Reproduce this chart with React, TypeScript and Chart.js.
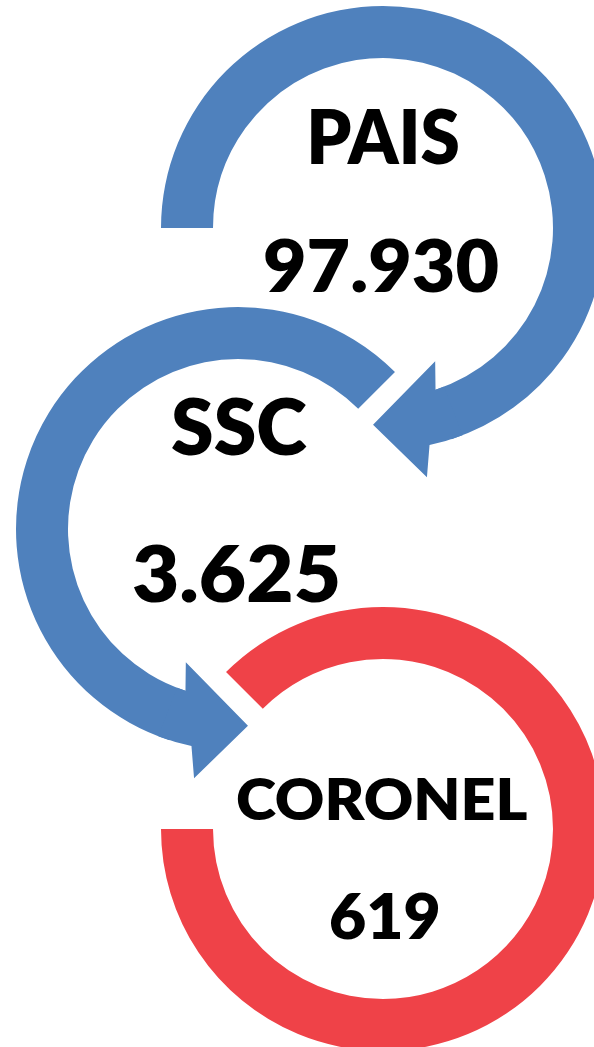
import React, { useEffect, useRef } from 'react';
import { Chart, registerables } from 'chart.js';

Chart.register(...registerables);

// ---------------- DATA ----------------
const names = ['PAIS', 'SSC', 'CORONEL'];
const values = [97930, 3625, 619];

// Spanish thousands separator: 97930 -> "97.930"
const formatValue = (v: number) => String(v).replace(/\B(?=(\d{3})+(?!\d))/g, '.');

// ---------------- STYLE / LAYOUT ----------------
const BLUE = '#4F81BD';
const RED = '#EF4248';
const FONT = '"Lato", "Open Sans", sans-serif';
const WEIGHT = 800;

const OUTER = 222; // ring outer radius (px)
const INNER = 170; // ring inner radius (px)
const PAD = 40; // room around the ring for the arrow head
const SIZE = OUTER * 2 + PAD * 2;

// angles in degrees, screen convention (0 = right, 90 = down, clockwise)
type Box = { dx: number; bottom: number; w: number; h: number };
type Ring = {
  cx: number;
  cy: number;
  startDeg: number;
  spanDeg: number;
  arrow: 'start' | 'end' | null;
  color: string;
  name: Box;
  value: Box;
};

const RINGS: Ring[] = [
  {
    cx: 383, cy: 228, startDeg: 180, spanDeg: 252, arrow: 'end', color: BLUE,
    name: { dx: 1.5, bottom: -63, w: 147, h: 57 },
    value: { dx: -1.5, bottom: 65, w: 233, h: 55 },
  },
  {
    cx: 238, cy: 529, startDeg: 108, spanDeg: 207, arrow: 'start', color: BLUE,
    name: { dx: 1.5, bottom: -73, w: 135, h: 58 },
    value: { dx: -2.5, bottom: 74, w: 205, h: 58 },
  },
  {
    cx: 383, cy: 829, startDeg: 225, spanDeg: 315, arrow: null, color: RED,
    name: { dx: -1, bottom: -9, w: 290, h: 42 },
    value: { dx: 1, bottom: 111, w: 108, h: 48 },
  },
];

// arrow head shape, relative to the arc end (polar: radius offset, angle offset in degrees)
const HEAD = {
  overlapDeg: 3,
  barbInDeg: -3.4,
  barbInR: -27, // from inner radius
  tipDeg: 20.9,
  tipR: 1, // from mid radius
  barbOutDeg: 8.0,
  barbOutR: 31, // from outer radius
  outerEndDeg: 5.9,
};

function drawFitted(
  ctx: CanvasRenderingContext2D,
  text: string,
  cx: number,
  bottom: number,
  w: number,
  h: number
) {
  ctx.save();
  ctx.font = `${WEIGHT} 100px ${FONT}`;
  const m = ctx.measureText(text);
  const inkH = m.actualBoundingBoxAscent + m.actualBoundingBoxDescent;
  const size = (100 * h) / inkH;
  ctx.font = `${WEIGHT} ${size}px ${FONT}`;
  const m2 = ctx.measureText(text);
  const inkW = m2.actualBoundingBoxLeft + m2.actualBoundingBoxRight;
  const sx = w / inkW;
  ctx.translate(cx, bottom - m2.actualBoundingBoxDescent);
  ctx.scale(sx, 1);
  ctx.textAlign = 'left';
  ctx.textBaseline = 'alphabetic';
  ctx.fillStyle = '#000000';
  ctx.fillText(text, -(m2.actualBoundingBoxRight - m2.actualBoundingBoxLeft) / 2, 0);
  ctx.restore();
}

function makeDecorPlugin(i: number) {
  const ring = RINGS[i];
  return {
    id: 'ringDecor' + i,
    afterDatasetsDraw(chart: any) {
      const ctx: CanvasRenderingContext2D = chart.ctx;
      const el: any = chart.getDatasetMeta(0).data[0];
      if (!el) return;
      const { x, y, startAngle, endAngle, innerRadius, outerRadius } = el;
      if (ring.arrow) {
        const dir = ring.arrow === 'end' ? 1 : -1;
        const base = ring.arrow === 'end' ? endAngle : startAngle;
        const rad = (d: number) => (d * Math.PI) / 180;
        const P = (r: number, a: number) => [x + r * Math.cos(a), y + r * Math.sin(a)];
        const mid = (innerRadius + outerRadius) / 2;
        const back = base - dir * rad(HEAD.overlapDeg);
        const outerEndA = base + dir * rad(HEAD.outerEndDeg);
        const anticw = dir < 0;
        ctx.save();
        ctx.beginPath();
        // inner edge: from slightly inside the body up to the arc end
        ctx.arc(x, y, innerRadius, back, base, anticw);
        const bIn = P(innerRadius + HEAD.barbInR, base + dir * rad(HEAD.barbInDeg));
        const tip = P(mid + HEAD.tipR, base + dir * rad(HEAD.tipDeg));
        const bOut = P(outerRadius + HEAD.barbOutR, base + dir * rad(HEAD.barbOutDeg));
        ctx.lineTo(bIn[0], bIn[1]);
        ctx.lineTo(tip[0], tip[1]);
        ctx.lineTo(bOut[0], bOut[1]);
        const oe = P(outerRadius, outerEndA);
        ctx.lineTo(oe[0], oe[1]);
        // outer edge back into the body
        ctx.arc(x, y, outerRadius, outerEndA, back, !anticw);
        ctx.closePath();
        ctx.fillStyle = ring.color;
        ctx.fill();
        ctx.restore();
      }
    },
    afterDraw(chart: any) {
      const ctx: CanvasRenderingContext2D = chart.ctx;
      const el: any = chart.getDatasetMeta(0).data[0];
      if (!el) return;
      const { x, y } = el;
      drawFitted(ctx, names[i], x + ring.name.dx, y + ring.name.bottom, ring.name.w, ring.name.h);
      drawFitted(ctx, formatValue(values[i]), x + ring.value.dx, y + ring.value.bottom, ring.value.w, ring.value.h);
    },
  };
}

export default function App() {
  const refs = useRef<(HTMLCanvasElement | null)[]>([]);

  useEffect(() => {
    const charts: Chart[] = RINGS.map((ring, i) => {
      const canvas = refs.current[i] as HTMLCanvasElement;
      return new Chart(canvas, {
        type: 'doughnut',
        data: {
          labels: [names[i], ''],
          datasets: [
            {
              data: [ring.spanDeg, 360 - ring.spanDeg],
              backgroundColor: [ring.color, 'rgba(0,0,0,0)'],
              borderWidth: 0,
              hoverOffset: 0,
              offset: 0,
            },
          ],
        },
        options: {
          responsive: false,
          maintainAspectRatio: false,
          devicePixelRatio: 1,
          animation: false,
          events: [],
          rotation: ring.startDeg + 90,
          circumference: 360,
          cutout: INNER,
          radius: OUTER,
          layout: { padding: PAD },
          plugins: {
            legend: { display: false },
            tooltip: { enabled: false },
            title: { display: false },
          },
        } as any,
        plugins: [makeDecorPlugin(i)],
      });
    });
    let alive = true;
    const fonts: any = (document as any).fonts;
    if (fonts && fonts.load) {
      fonts.load(`${WEIGHT} 60px Lato`).then(() => {
        if (alive) charts.forEach((c) => c.draw());
      }).catch(() => {});
    }
    return () => {
      alive = false;
      charts.forEach((c) => c.destroy());
    };
  }, []);

  return (
    <div
      style={{
        position: 'fixed',
        left: 0,
        top: 0,
        width: 594,
        height: 1047,
        overflow: 'hidden',
        background: '#ffffff',
      }}
    >
      {RINGS.map((ring, i) => (
        <canvas
          key={i}
          ref={(c) => {
            refs.current[i] = c;
          }}
          width={SIZE}
          height={SIZE}
          style={{
            position: 'absolute',
            left: ring.cx - SIZE / 2,
            top: ring.cy - SIZE / 2,
            width: SIZE,
            height: SIZE,
          }}
        />
      ))}
    </div>
  );
}
